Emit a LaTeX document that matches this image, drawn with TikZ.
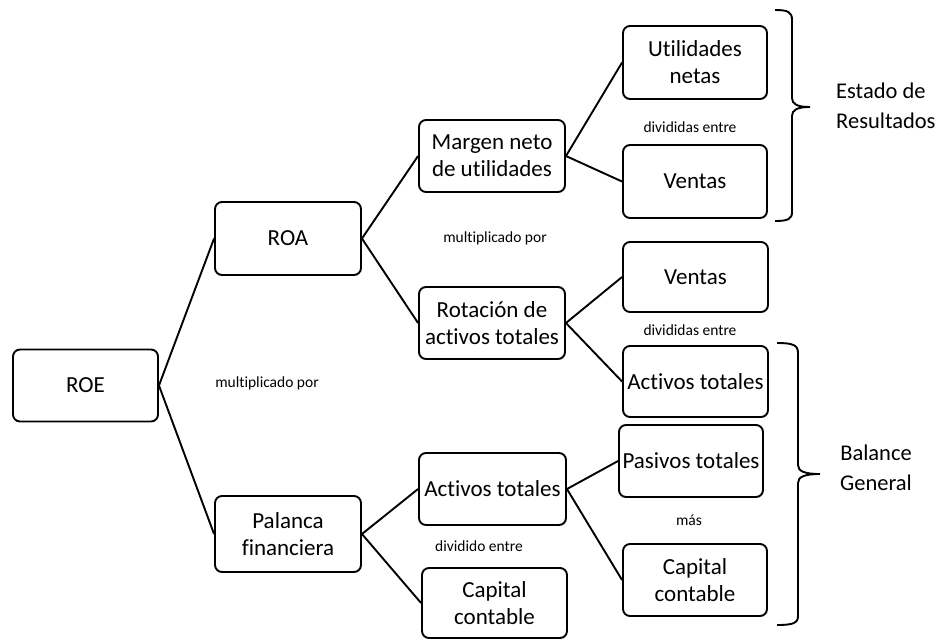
\documentclass[tikz,border=0pt]{standalone}
\usepackage{fontspec}
\setmainfont{Carlito}[Ligatures=NoCommon]
\usetikzlibrary{positioning}
\tikzset{
	box/.style={draw, line width=1.9pt, rounded corners=7pt, align=center, inner sep=0pt,
		minimum width=145pt, minimum height=72pt, font=\fontsize{23}{27}\selectfont},
	link/.style={draw, line width=1.9pt},
	note/.style={inner sep=0pt, font=\fontsize{15.5}{18}\selectfont},
	side/.style={inner sep=0pt, align=left, font=\fontsize{22.5}{30}\selectfont},
	brace/.style={draw, line width=1.9pt}
}

\begin{document}
\begin{tikzpicture}[x=1pt, y=-1pt]
\useasboundingbox (0,0) rectangle (941,638);

\node[box] (roe) at (85.5,385.5) {ROE};
\node[box, minimum width=146pt, minimum height=73pt] (roa) at (288,238.5) {ROA};
\node[box, minimum width=146pt, minimum height=76pt] (palanca) at (288,534) {Palanca\\financiera};

\node[box, minimum width=146pt] (margen) at (492,156) {Margen neto\\de utilidades};
\node[box, minimum width=146pt] (rotacion) at (492,323) {Rotación de\\activos totales};
\node[box, minimum width=147pt] (activosB) at (492.5,489) {Activos totales};
\node[box, minimum height=70pt] (capitalB) at (494.5,603) {Capital\\contable};

\node[box, minimum width=144pt, minimum height=73pt] (utilidades) at (695,62.5) {Utilidades\\netas};
\node[box, minimum width=144pt, minimum height=73pt] (ventasA) at (695,181.5) {Ventas};
\node[box, minimum height=70pt] (ventasB) at (695.5,277) {Ventas};
\node[box, minimum height=71pt] (activosA) at (695.5,381.5) {Activos totales};
\node[box, minimum width=144pt] (pasivos) at (691,461) {Pasivos totales};
\node[box, minimum width=144pt] (capitalA) at (695,580) {Capital\\contable};

\node[note] (mult1) at (267,383) {multiplicado por};
\node[note] (mult2) at (495,238) {multiplicado por};
\node[note] (divA) at (690,127) {divididas entre};
\node[note] (divB) at (690,330) {divididas entre};
\node[note] (mas) at (689,520) {más};
\node[note] (divC) at (479,546) {dividido entre};

\node[side, anchor=west] (estado) at (836,106) {Estado de\\Resultados};
\node[side, align=center] (balance) at (876,468) {Balance\\General};

\draw[link] (roe.east) -- (roa.west);
\draw[link] (roe.east) -- (palanca.west);
\draw[link] (roa.east) -- (margen.west);
\draw[link] (roa.east) -- (rotacion.west);
\draw[link] (palanca.east) -- (activosB.west);
\draw[link] (palanca.east) -- (capitalB.west);
\draw[link] (margen.east) -- (utilidades.west);
\draw[link] (margen.east) -- (ventasA.west);
\draw[link] (rotacion.east) -- (ventasB.west);
\draw[link] (rotacion.east) -- (activosA.west);
\draw[link] (activosB.east) -- (pasivos.west);
\draw[link] (activosB.east) -- (capitalA.west);

\draw[brace] (775,10) .. controls (788,10) and (792,12) .. (792,20) -- (792,98)
	.. controls (792,104) and (797,107) .. (810,107)
	.. controls (797,107) and (792,110) .. (792,116) -- (792,212)
	.. controls (792,219) and (788,221) .. (775,221);
\draw[brace] (777,343) .. controls (793,343) and (798,345) .. (798,353) -- (798,465)
	.. controls (798,471) and (804,474) .. (820,474)
	.. controls (804,474) and (798,477) .. (798,483) -- (798,616)
	.. controls (798,623) and (793,625) .. (777,625);
\end{tikzpicture}
\end{document}
